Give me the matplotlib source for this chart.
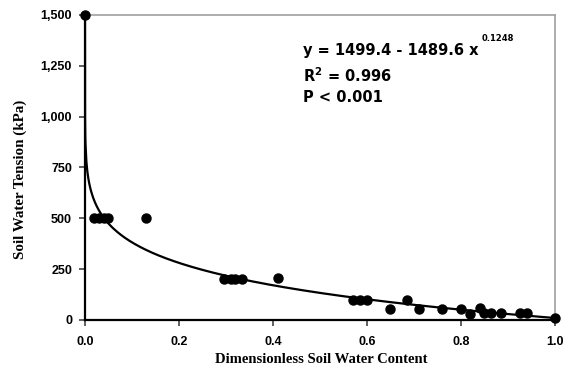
import numpy as np
import matplotlib
matplotlib.use("Agg")
import matplotlib.pyplot as plt

plt.rcParams["mathtext.fontset"] = "dejavusans"

# Observed data
theta = [0.0, 0.02, 0.03, 0.04, 0.05, 0.13,
         0.295, 0.31, 0.32, 0.335, 0.41,
         0.57, 0.585, 0.60, 0.65, 0.685, 0.71,
         0.76, 0.80, 0.82, 0.84, 0.85, 0.865, 0.885, 0.925, 0.94, 1.0]
tension = [1500, 500, 500, 500, 500, 500,
           200, 200, 200, 200, 205,
           100, 100, 100, 55, 100, 55,
           55, 55, 30, 60, 33, 33, 33, 33, 33, 10]

# Fit parameters
a, b, c = 1499.4, 1489.6, 0.1248

xticks = [0.0, 0.2, 0.4, 0.6, 0.8, 1.0]
yticks = [0, 250, 500, 750, 1000, 1250, 1500]

fig = plt.figure(figsize=(5.72, 3.71), dpi=100)
ax = fig.add_axes([0.1486, 0.1375, 0.8214, 0.8221])

xf = np.concatenate([np.logspace(-40, -3, 200), np.linspace(0.001, 1.0, 500)])
yf = a - b * xf ** c
ax.plot(xf, yf, color="black", lw=1.6, zorder=2)
ax.plot(theta, tension, "o", color="black", ms=6.5, zorder=3, clip_on=False)

ax.set_xlim(0, 1.0)
ax.set_ylim(0, 1500)
ax.set_xticks(xticks)
ax.set_yticks(yticks)
ax.set_xticklabels([f"{v:.1f}" for v in xticks])
ax.set_yticklabels([f"{v:,}" for v in yticks])

for lab in ax.get_xticklabels() + ax.get_yticklabels():
    lab.set_fontfamily("Liberation Sans")
    lab.set_fontweight("bold")
    lab.set_fontsize(9)

ax.tick_params(direction="out", length=4.3, width=1.2, color="#444444")
ax.tick_params(axis="y", pad=5)
ax.tick_params(axis="x", pad=7)

for s in ["left", "bottom"]:
    ax.spines[s].set_linewidth(1.6)
    ax.spines[s].set_color("black")
for s in ["top", "right"]:
    ax.spines[s].set_linewidth(1.2)
    ax.spines[s].set_color("#a0a0a0")

ax.set_xlabel("Dimensionless Soil Water Content", family="Liberation Serif",
              fontweight="bold", fontsize=10.5, va="top")
ax.set_ylabel("Soil Water Tension (kPa)", family="Liberation Serif",
              fontweight="bold", fontsize=10.8)
ax.xaxis.set_label_coords(0.502, -0.108)
ax.yaxis.set_label_coords(-0.123, 0.462)

tf = dict(family="DejaVu Sans", fontweight="bold", fontsize=10.5,
          transform=ax.transAxes, va="baseline", ha="left")
t1 = ax.text(0.464, 0.869, "y = 1499.4 - 1489.6 x", **tf)
ax.annotate("0.1248", xy=(1, 1), xycoords=t1, xytext=(2, 0),
            textcoords="offset points", ha="left", va="bottom",
            family="DejaVu Sans", fontweight="bold", fontsize=6)
ax.text(0.464, 0.781, "R$^{\\mathbf{2}}$ = 0.996", **tf)
ax.text(0.464, 0.716, "P < 0.001", **tf)

fig.savefig("out.png", dpi=100)
